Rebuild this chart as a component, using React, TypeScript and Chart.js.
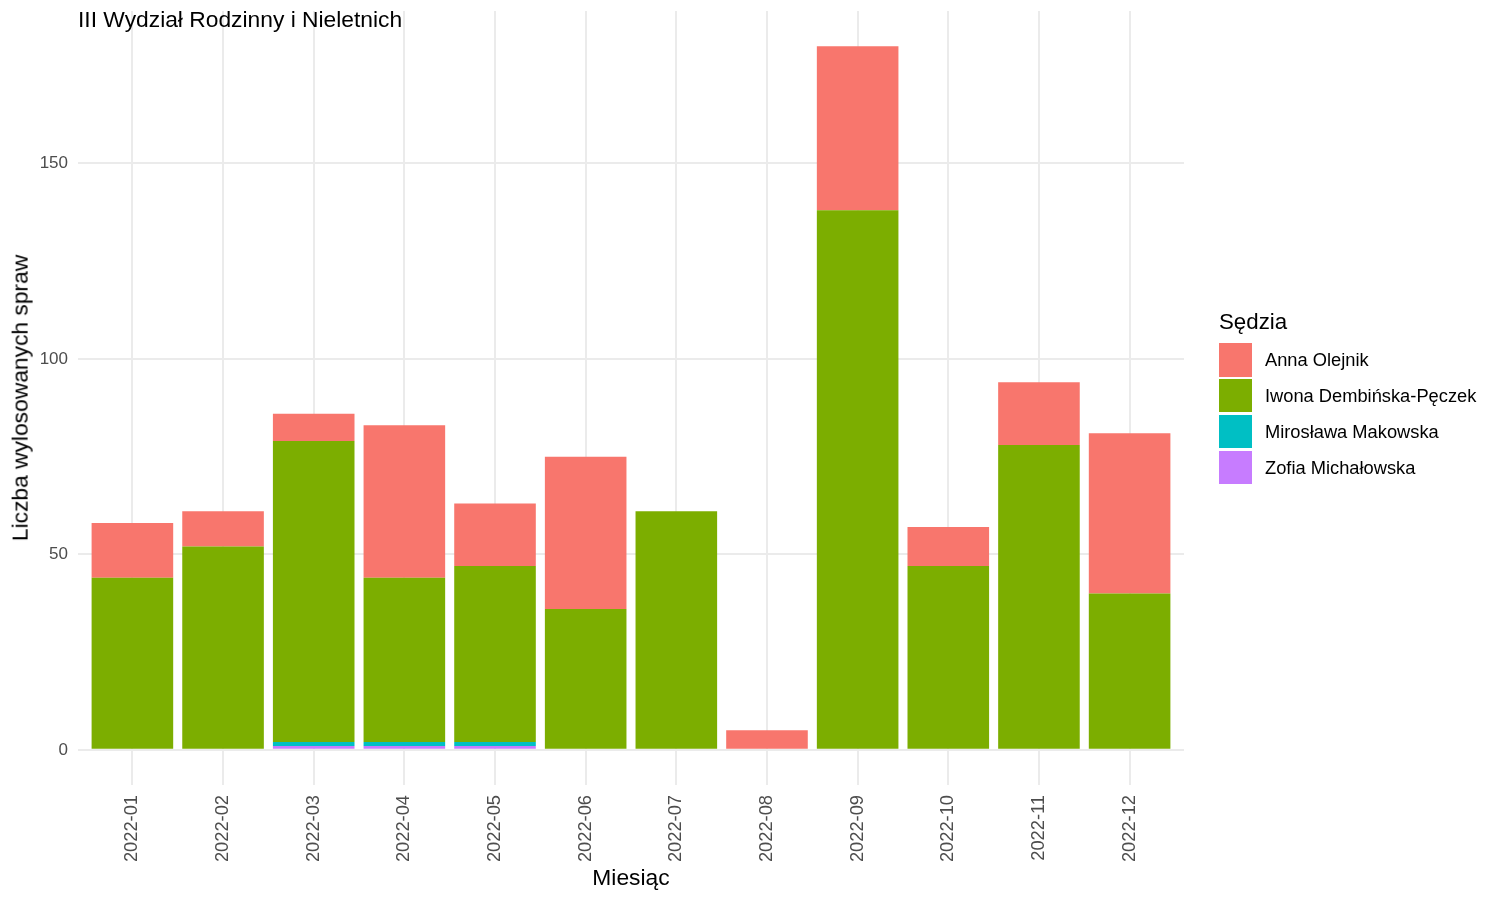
import React, { useEffect, useRef } from "react";
import { Chart, registerables } from "chart.js";

Chart.register(...registerables);

const months = [
  "2022-01", "2022-02", "2022-03", "2022-04", "2022-05", "2022-06",
  "2022-07", "2022-08", "2022-09", "2022-10", "2022-11", "2022-12",
];
const annaOlejnik = [14, 9, 7, 39, 16, 39, 0, 5, 42, 10, 16, 41];
const iwonaDembinska = [44, 52, 77, 42, 45, 36, 61, 0, 138, 47, 78, 40];
const miroslawaMakowska = [0, 0, 1, 1, 1, 0, 0, 0, 0, 0, 0, 0];
const zofiaMichalowska = [0, 0, 1, 1, 1, 0, 0, 0, 0, 0, 0, 0];
const yTicks = [0, 50, 100, 150];

const judges = [
  { name: "Anna Olejnik", color: "#F8766D", values: annaOlejnik },
  { name: "Iwona Dembińska-Pęczek", color: "#7CAE00", values: iwonaDembinska },
  { name: "Mirosława Makowska", color: "#00BFC4", values: miroslawaMakowska },
  { name: "Zofia Michałowska", color: "#C77CFF", values: zofiaMichalowska },
];

const FONT = "'Liberation Sans', Arial, sans-serif";

export default function App() {
  const ref = useRef<HTMLCanvasElement | null>(null);

  useEffect(() => {
    if (!ref.current) return;
    // stacking bottom-to-top: last judge first
    const datasets = [...judges].reverse().map((j) => ({
      label: j.name,
      data: j.values.map((v, i) => ({ x: i, y: v })),
      backgroundColor: j.color,
      borderWidth: 0,
      stack: "s",
      barPercentage: 0.9,
      categoryPercentage: 1,
    }));
    const chart = new Chart(ref.current, {
      type: "bar",
      data: { datasets },
      options: {
        animation: false,
        responsive: false,
        maintainAspectRatio: false,
        layout: { padding: { left: 0, right: 316, top: 11, bottom: 0 } },
        plugins: { legend: { display: false }, tooltip: { enabled: false }, title: { display: false } },
        scales: {
          x: {
            type: "linear",
            min: -0.6,
            max: 11.6,
            offset: false,
            grid: { offset: false, color: "#ebebeb", lineWidth: 2, drawTicks: false },
            border: { display: false },
            afterBuildTicks: (s: any) => {
              s.ticks = months.map((_, i) => ({ value: i }));
            },
            afterFit: (s: any) => {
              s.height = 115;
              s.paddingLeft = 0;
              s.paddingRight = 0;
            },
            ticks: {
              autoSkip: false,
              maxRotation: 90,
              minRotation: 90,
              padding: 10,
              color: "#4d4d4d",
              font: { family: FONT, size: 18.3 },
              callback: (v: any) => months[v as number] ?? "",
            },
          },
          y: {
            type: "linear",
            stacked: true,
            min: -9,
            max: 189,
            grid: { color: "#ebebeb", lineWidth: 2, drawTicks: false },
            border: { display: false },
            afterBuildTicks: (s: any) => {
              s.ticks = yTicks.map((v) => ({ value: v }));
            },
            afterFit: (s: any) => {
              s.width = 78;
              s.paddingTop = 0;
              s.paddingBottom = 0;
            },
            ticks: {
              padding: 10,
              color: "#4d4d4d",
              font: { family: FONT, size: 17 },
            },
          },
        },
      },
    } as any);
    return () => chart.destroy();
  }, []);

  return (
    <div style={{ position: "fixed", left: 0, top: 0, width: 1500, height: 900, background: "#fff", fontFamily: FONT }}>
      <canvas ref={ref} width={1500} height={900} style={{ position: "absolute", left: 0, top: 0, width: 1500, height: 900 }} />
      <div style={{ position: "absolute", left: 78, top: 8, fontSize: 22.8, lineHeight: "22.8px", color: "#000", whiteSpace: "nowrap" }}>
        III Wydział Rodzinny i Nieletnich
      </div>
      <div style={{ position: "absolute", left: 631, top: 866, transform: "translateX(-50%)", fontSize: 22.8, lineHeight: "22.8px", color: "#000", whiteSpace: "nowrap" }}>
        Miesiąc
      </div>
      <div style={{ position: "absolute", left: 20, top: 398, transform: "translate(-50%, -50%) rotate(-90deg)", fontSize: 22.8, lineHeight: "22.8px", color: "#000", whiteSpace: "nowrap" }}>
        Liczba wylosowanych spraw
      </div>
      <div style={{ position: "absolute", left: 1219, top: 311, fontSize: 22.3, lineHeight: "22.3px", color: "#000", whiteSpace: "nowrap" }}>
        Sędzia
      </div>
      {judges.map((j, i) => (
        <div key={j.name} style={{ position: "absolute", left: 1219, top: 343.3 + i * 35.9, height: 33.3, display: "flex", alignItems: "center" }}>
          <div style={{ width: 33.3, height: 33.3, background: j.color }} />
          <div style={{ marginLeft: 12.7, fontSize: 18.3, lineHeight: "18.3px", color: "#000", whiteSpace: "nowrap" }}>{j.name}</div>
        </div>
      ))}
    </div>
  );
}
